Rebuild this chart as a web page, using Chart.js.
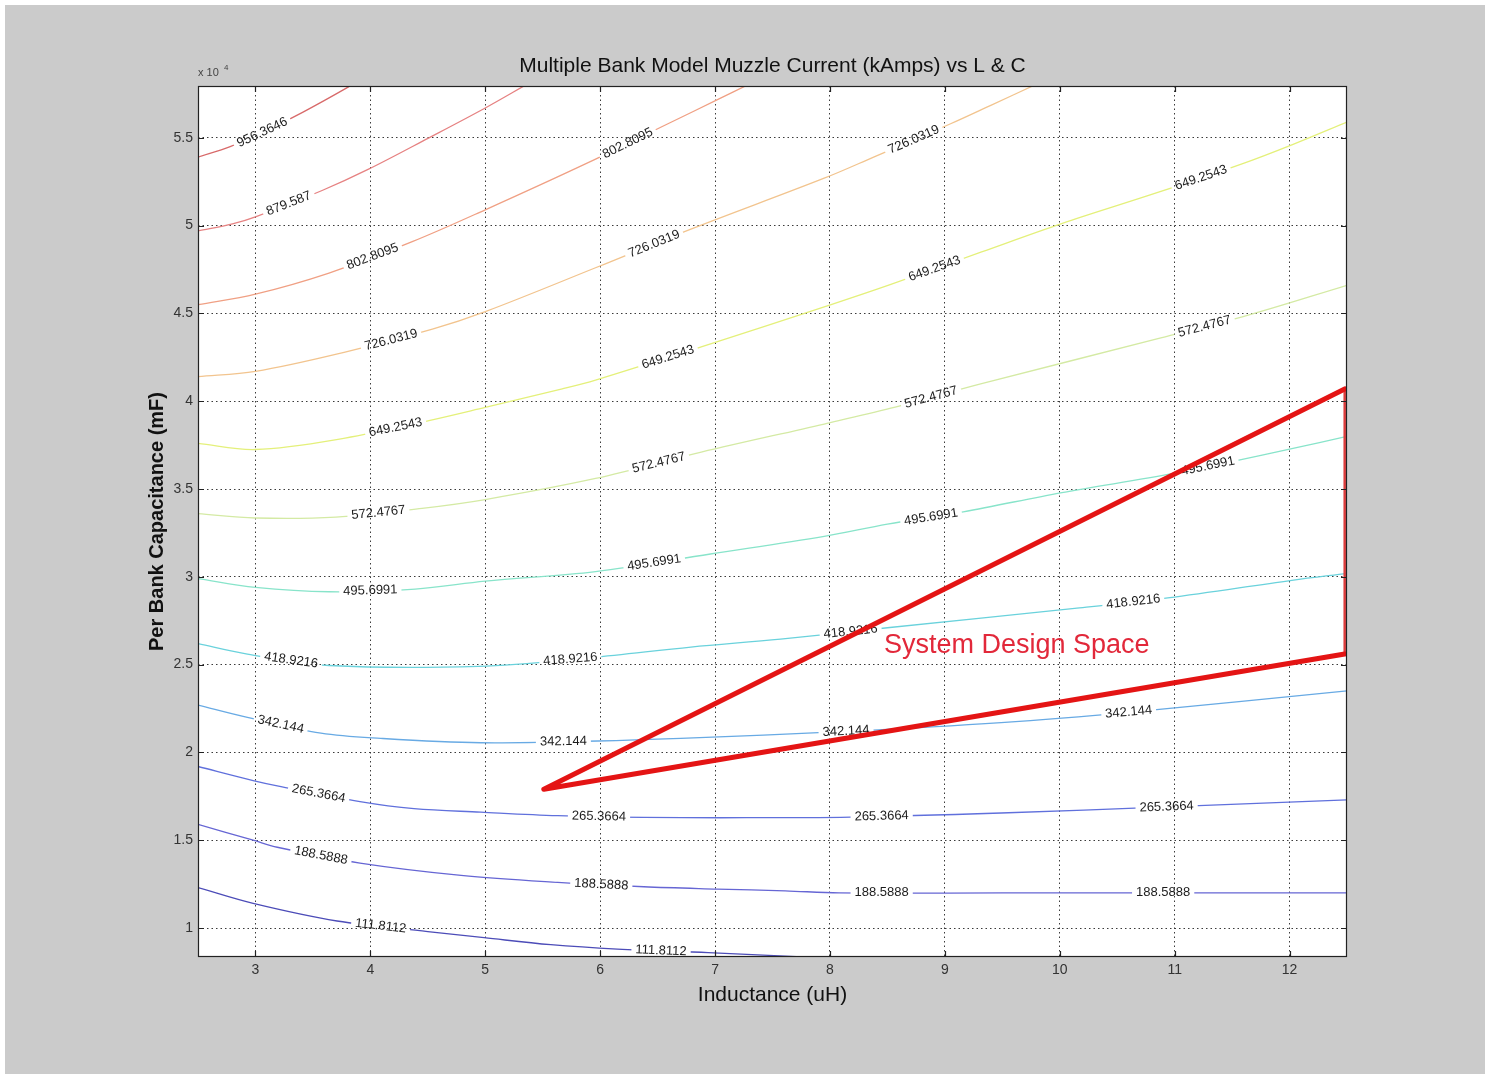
<!DOCTYPE html>
<html>
<head>
<meta charset="utf-8">
<script src="https://cdn.jsdelivr.net/npm/chart.js@4.4.1/dist/chart.umd.min.js"></script>
<style>
html,body{margin:0;padding:0;background:#fff;}
#wrap{position:absolute;left:0;top:0;width:1489px;height:1078px;}
canvas{display:block;}
</style>
</head>
<body>
<div id="wrap"><canvas id="c" width="1489" height="1078"></canvas></div>
<script>
// ---------------- DATA ----------------
const levels = [111.8112, 188.5888, 265.3664, 342.144, 418.9216, 495.6991, 572.4767, 649.2543, 726.0319, 802.8095, 879.587, 956.3646];

const c111 = [[2.5,1.23],[2.98,1.14],[3.71,1.04],[4.50,0.98],[4.99,0.945],[5.57,0.905],[6.15,0.88],[6.94,0.86],[7.61,0.84],[7.90,0.83]];
const c188 = [[2.5,1.59],[2.98,1.50],[3.19,1.46],[3.91,1.37],[4.79,1.30],[5.63,1.26],[6.38,1.235],[7.02,1.222],[7.61,1.212],[8.08,1.20],[9.5,1.20],[11.0,1.20],[12.5,1.20]];
const c265 = [[2.5,1.92],[2.98,1.84],[3.19,1.81],[3.91,1.72],[4.38,1.68],[4.96,1.66],[5.63,1.64],[6.38,1.63],[7.05,1.628],[8.18,1.632],[9.49,1.655],[10.93,1.69],[12.5,1.73]];
const c342 = [[2.5,2.27],[2.93,2.20],[3.57,2.11],[4.09,2.08],[4.96,2.055],[5.98,2.065],[6.70,2.08],[8.14,2.12],[9.49,2.17],[10.62,2.23],[12.5,2.35]];
const c418 = [[2.5,2.62],[2.93,2.56],[3.64,2.495],[4.94,2.49],[5.92,2.54],[6.79,2.60],[7.57,2.645],[8.5,2.71],[10.13,2.82],[10.94,2.88],[12.02,2.98],[12.5,3.02]];
const c495 = [[2.5,2.99],[3.0,2.94],[3.64,2.915],[4.39,2.93],[5.0,2.975],[5.96,3.03],[6.96,3.13],[7.95,3.23],[8.5,3.30],[9.16,3.37],[10.02,3.48],[11.0,3.59],[12.02,3.73],[12.5,3.80]];
const c572 = [[2.5,3.36],[3.0,3.335],[3.70,3.34],[4.45,3.39],[5.0,3.44],[5.96,3.56],[6.88,3.71],[7.95,3.87],[8.53,3.96],[9.32,4.10],[10.88,4.36],[11.64,4.49],[12.5,4.66]];
const c649 = [[2.5,3.76],[3.0,3.725],[3.78,3.79],[4.51,3.89],[5.0,3.965],[5.67,4.07],[5.96,4.12],[6.88,4.31],[8.01,4.55],[8.53,4.665],[9.32,4.85],[10.01,5.01],[10.86,5.19],[11.58,5.35],[12.02,5.46],[12.5,5.59]];
const c726 = [[2.5,4.14],[3.0,4.17],[3.78,4.28],[4.54,4.41],[5.0,4.51],[5.96,4.76],[6.79,4.98],[7.95,5.27],[8.38,5.39],[9.05,5.58],[9.40,5.685],[9.78,5.80]];
const c802 = [[2.5,4.55],[3.0,4.61],[3.64,4.73],[4.37,4.91],[5.0,5.09],[5.90,5.36],[6.59,5.58],[7.03,5.72],[7.28,5.80]];
const c880 = [[2.5,4.97],[2.8,5.01],[3.0,5.05],[3.58,5.20],[3.98,5.32],[4.51,5.50],[5.0,5.67],[5.35,5.80]];
const c956 = [[2.5,5.39],[2.78,5.45],[3.06,5.53],[3.41,5.645],[3.81,5.79],[3.85,5.81]];

// contour label locations (Inductance value along each contour)
const lab111 = [4.09, 6.53];
const lab188 = [3.57, 6.01, 8.45, 10.9];
const lab265 = [3.55, 5.99, 8.45, 10.93];
const lab342 = [3.22, 5.68, 8.14, 10.6];
const lab418 = [3.31, 5.74, 8.18, 10.64];
const lab495 = [4.0, 6.47, 8.88, 11.29];
const lab572 = [4.07, 6.51, 8.88, 11.26];
const lab649 = [4.22, 6.59, 8.91, 11.23];
const lab726 = [4.18, 6.47, 8.73];
const lab802 = [4.02, 6.24];
const lab880 = [3.29];
const lab956 = [3.06];

// system design space (triangle)
const spaceX = [12.48, 5.51, 12.48];
const spaceY = [4.07, 1.79, 2.56];

const xTicks = [3, 4, 5, 6, 7, 8, 9, 10, 11, 12];
const yTicks = [1, 1.5, 2, 2.5, 3, 3.5, 4, 4.5, 5, 5.5];

// ---------------- STYLE ----------------
const contourColors = ['#4c4cb8','#6666d4','#6070dc','#68aae4','#6ad2dc','#88e4ca','#d4eaa4','#e4f07a','#f2c48e','#f0a084','#e68282','#d86a6a'];
const contourPts = [c111,c188,c265,c342,c418,c495,c572,c649,c726,c802,c880,c956];
const contourLabs = [lab111,lab188,lab265,lab342,lab418,lab495,lab572,lab649,lab726,lab802,lab880,lab956];
const FONT = '"Liberation Sans", Arial, Helvetica, sans-serif';

function interp(pts, x) {
  if (x <= pts[0][0]) return pts[0][1];
  for (let i = 1; i < pts.length; i++) {
    if (x <= pts[i][0]) {
      const t = (x - pts[i-1][0]) / (pts[i][0] - pts[i-1][0]);
      return pts[i-1][1] + t * (pts[i][1] - pts[i-1][1]);
    }
  }
  return pts[pts.length-1][1];
}

const datasets = [];
datasets.push({
  label: 'design', data: spaceX.map((x,i)=>({x, y: spaceY[i]})),
  showLine: true, borderColor: '#e41414', borderWidth: 5, pointRadius: 0, tension: 0, borderJoinStyle: 'round', borderCapStyle: 'round'
});
datasets.push({
  label: 'design edge', data: [{x: spaceX[0], y: spaceY[0]}, {x: spaceX[2], y: spaceY[2]}],
  showLine: true, borderColor: '#dc3c3c', borderWidth: 2.5, pointRadius: 0, tension: 0
});
levels.forEach((lv, i) => {
  datasets.push({
    label: String(lv), contourIndex: i,
    data: contourPts[i].map(p => ({x: p[0], y: p[1]})),
    showLine: true, borderColor: contourColors[i], borderWidth: 1.3, pointRadius: 0,
    tension: 0.35
  });
});

const bgPlugin = {
  id: 'bg',
  beforeDraw(chart) {
    const {ctx, chartArea: a} = chart;
    ctx.save();
    ctx.fillStyle = '#ffffff';
    ctx.fillRect(0, 0, chart.width, chart.height);
    ctx.fillStyle = '#cbcbcb';
    ctx.fillRect(5, 5, 1480, 1069);
    ctx.fillStyle = '#ffffff';
    ctx.fillRect(a.left, a.top, a.right - a.left, a.bottom - a.top);
    ctx.restore();
  }
};

const labelPlugin = {
  id: 'contourLabels',
  beforeDatasetsDraw(chart) {
    const {ctx, scales: {x, y}} = chart;
    ctx.save();
    ctx.font = '13px ' + FONT;
    ctx.fillStyle = '#1c1c1c';
    ctx.textAlign = 'center';
    ctx.textBaseline = 'middle';
    chart.$labelRects = {};
    contourPts.forEach((pts, i) => {
      const rects = [];
      const txt = String(levels[i]);
      contourLabs[i].forEach(lx => {
        const ly = interp(pts, lx);
        const px = x.getPixelForValue(lx), py = y.getPixelForValue(ly);
        const d = 0.2;
        const dx = x.getPixelForValue(lx + d) - x.getPixelForValue(lx - d);
        const dy = y.getPixelForValue(interp(pts, lx + d)) - y.getPixelForValue(interp(pts, lx - d));
        const ang = Math.atan2(dy, dx);
        const w = ctx.measureText(txt).width + 8, h = 14;
        ctx.save();
        ctx.translate(px, py);
        ctx.rotate(ang);
        ctx.fillText(txt, 0, 0);
        ctx.restore();
        rects.push({px, py, ang, w, h});
      });
      chart.$labelRects[i] = rects;
    });
    ctx.restore();
  },
  beforeDatasetDraw(chart, args) {
    const ds = chart.data.datasets[args.index];
    if (ds.contourIndex === undefined) return;
    const rects = chart.$labelRects[ds.contourIndex] || [];
    const ctx = chart.ctx, a = chart.chartArea;
    ctx.save();
    ctx.beginPath();
    ctx.rect(a.left, a.top, a.right - a.left, a.bottom - a.top);
    rects.forEach(r => {
      const c = Math.cos(r.ang), s = Math.sin(r.ang);
      const pts = [[-r.w/2,-r.h/2],[r.w/2,-r.h/2],[r.w/2,r.h/2],[-r.w/2,r.h/2]].map(([u,v]) => [r.px + u*c - v*s, r.py + u*s + v*c]);
      ctx.moveTo(pts[0][0], pts[0][1]);
      for (let k = 1; k < 4; k++) ctx.lineTo(pts[k][0], pts[k][1]);
      ctx.closePath();
    });
    ctx.clip('evenodd');
  },
  afterDatasetDraw(chart, args) {
    const ds = chart.data.datasets[args.index];
    if (ds.contourIndex === undefined) return;
    chart.ctx.restore();
  }
};

const framePlugin = {
  id: 'frame',
  afterDatasetsDraw(chart) {
    const {ctx, chartArea: a, scales: {x, y}} = chart;
    ctx.save();
    // annotation
    ctx.font = '27px ' + FONT;
    ctx.fillStyle = '#e2283a';
    ctx.textAlign = 'left';
    ctx.textBaseline = 'middle';
    ctx.fillText('System Design Space', x.getPixelForValue(8.47), y.getPixelForValue(2.61));
    // box
    ctx.strokeStyle = '#222';
    ctx.lineWidth = 1.2;
    ctx.strokeRect(a.left + 0.5, a.top + 0.5, a.right - a.left - 1, a.bottom - a.top - 1);
    // inward ticks
    ctx.beginPath();
    xTicks.forEach(v => {
      const px = Math.round(x.getPixelForValue(v)) + 0.5;
      ctx.moveTo(px, a.bottom); ctx.lineTo(px, a.bottom - 6);
      ctx.moveTo(px, a.top); ctx.lineTo(px, a.top + 6);
    });
    yTicks.forEach(v => {
      const py = Math.round(y.getPixelForValue(v)) + 0.5;
      ctx.moveTo(a.left, py); ctx.lineTo(a.left + 6, py);
      ctx.moveTo(a.right, py); ctx.lineTo(a.right - 6, py);
    });
    ctx.stroke();
    // exponent label
    ctx.fillStyle = '#444';
    ctx.font = '11px ' + FONT;
    ctx.textBaseline = 'alphabetic';
    ctx.fillText('x 10', a.left, a.top - 10);
    ctx.font = '8px ' + FONT;
    ctx.fillText('4', a.left + 26, a.top - 16);
    ctx.restore();
  }
};

new Chart(document.getElementById('c'), {
  type: 'scatter',
  data: { datasets },
  plugins: [bgPlugin, labelPlugin, framePlugin],
  options: {
    responsive: false,
    animation: false,
    devicePixelRatio: 1,
    layout: { padding: { left: 0, right: 142, top: 0, bottom: 61 } },
    plugins: {
      legend: { display: false },
      tooltip: { enabled: false },
      title: {
        display: true, fullSize: false,
        text: 'Multiple Bank Model Muzzle Current (kAmps) vs L & C',
        color: '#111', font: { family: FONT, size: 21, weight: 'normal' },
        padding: { top: 54, bottom: 6.8 }
      }
    },
    scales: {
      x: {
        type: 'linear', min: 2.5, max: 12.5,
        afterBuildTicks: s => { s.ticks = xTicks.map(v => ({value: v})); },
        afterFit: s => { s.height = 60; },
        ticks: { color: '#333', font: { family: FONT, size: 14 }, padding: 5, callback: v => String(v) },
        grid: { color: '#3a3a3a', lineWidth: 1, drawTicks: false },
        border: { display: false, dash: [1.5, 3] },
        title: { display: true, text: 'Inductance (uH)', color: '#111', font: { family: FONT, size: 21 }, padding: { top: 0, bottom: 9 } }
      },
      y: {
        type: 'linear', min: 0.835, max: 5.795,
        afterBuildTicks: s => { s.ticks = yTicks.map(v => ({value: v})); },
        afterFit: s => { s.width = 198; },
        ticks: { color: '#333', font: { family: FONT, size: 14 }, padding: 5, callback: v => String(v) },
        grid: { color: '#3a3a3a', lineWidth: 1, drawTicks: false },
        border: { display: false, dash: [1.5, 3] },
        title: { display: true, text: 'Per Bank Capacitance (mF)', color: '#111', font: { family: FONT, size: 20, weight: 'bold' }, padding: { top: 145, bottom: 0 } }
      }
    }
  }
});
</script>
</body>
</html>
